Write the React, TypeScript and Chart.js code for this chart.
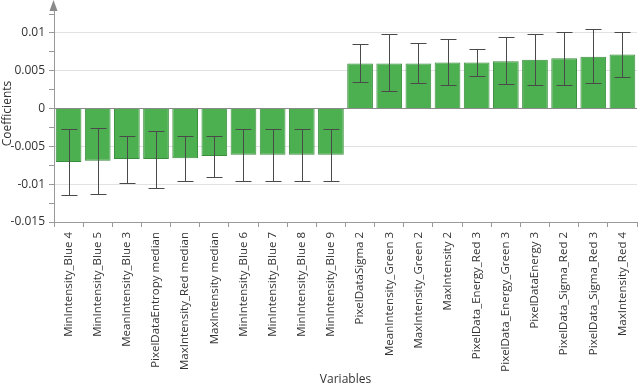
import React, { useEffect, useRef } from "react";
import { Chart, registerables } from "chart.js";

Chart.register(...registerables);

// Variables ordered by coefficient
const variables = [
  "MinIntensity_Blue 4",
  "MinIntensity_Blue 5",
  "MeanIntensity_Blue 3",
  "PixelDataEntropy median",
  "MaxIntensity_Red median",
  "MaxIntensity median",
  "MinIntensity_Blue 6",
  "MinIntensity_Blue 7",
  "MinIntensity_Blue 8",
  "MinIntensity_Blue 9",
  "PixelDataSigma 2",
  "MeanIntensity_Green 3",
  "MaxIntensity_Green 2",
  "MaxIntensity 2",
  "PixelData_Energy_Red 3",
  "PixelData_Energy_Green 3",
  "PixelDataEnergy 3",
  "PixelData_Sigma_Red 2",
  "PixelData_Sigma_Red 3",
  "MaxIntensity_Red 4",
];

const coefficients = [
  -0.00707, -0.00689, -0.00667, -0.00667, -0.00658, -0.00627, -0.00609, -0.00609, -0.00609, -0.00609,
  0.00597, 0.00597, 0.00597, 0.0061, 0.0061, 0.00627, 0.00645, 0.00667, 0.00684, 0.00715,
];

// Confidence interval bounds
const ciLow = [
  -0.01145, -0.01132, -0.00987, -0.01053, -0.00952, -0.00904, -0.00952, -0.00952, -0.00952, -0.00952,
  0.00351, 0.00228, 0.00338, 0.00307, 0.00434, 0.00325, 0.00311, 0.00316, 0.00333, 0.00421,
];
const ciHigh = [
  -0.00276, -0.00259, -0.00364, -0.00294, -0.00364, -0.0036, -0.00268, -0.00268, -0.00268, -0.00268,
  0.0086, 0.00982, 0.00873, 0.00917, 0.00794, 0.00943, 0.00987, 0.01018, 0.01048, 0.01013,
];

const yTicks = [-0.015, -0.0125, -0.01, -0.0075, -0.005, -0.0025, 0, 0.0025, 0.005, 0.0075, 0.01, 0.0125];
const yMin = -0.015;
const yMax = 0.0137;

const FONT = "'Open Sans', 'Noto Sans', sans-serif";

const isMajor = (v: number) => Math.abs(Math.round(v / 0.005) * 0.005 - v) < 1e-9;

const errorBars = {
  id: "errorBars",
  afterDatasetsDraw(chart: any) {
    const meta = chart.getDatasetMeta(0);
    const y = chart.scales.y;
    const ctx = chart.ctx;
    ctx.save();
    ctx.strokeStyle = "#4a4a4a";
    ctx.lineWidth = 1;
    meta.data.forEach((bar: any, i: number) => {
      const x = Math.round(bar.x) + 0.5;
      const y1 = Math.round(y.getPixelForValue(ciLow[i])) + 0.5;
      const y2 = Math.round(y.getPixelForValue(ciHigh[i])) + 0.5;
      const half = 8;
      ctx.beginPath();
      ctx.moveTo(x, y1);
      ctx.lineTo(x, y2);
      ctx.moveTo(x - half, y1);
      ctx.lineTo(x + half, y1);
      ctx.moveTo(x - half, y2);
      ctx.lineTo(x + half, y2);
      ctx.stroke();
    });
    ctx.restore();
  },
};

const axisArrow = {
  id: "axisArrow",
  afterDraw(chart: any) {
    const { ctx, chartArea } = chart;
    const x = Math.round(chartArea.left) - 0.5;
    ctx.save();
    ctx.strokeStyle = "#999";
    ctx.lineWidth = 1;
    ctx.beginPath();
    ctx.moveTo(x, chartArea.top);
    ctx.lineTo(x, 8);
    ctx.stroke();
    ctx.fillStyle = "#8a8a8a";
    ctx.beginPath();
    ctx.moveTo(x, 0);
    ctx.lineTo(x - 4, 11);
    ctx.lineTo(x + 4, 11);
    ctx.closePath();
    ctx.fill();
    ctx.restore();
  },
};

export default function App() {
  const canvasRef = useRef<HTMLCanvasElement>(null);

  useEffect(() => {
    document.body.style.margin = "0";
    const canvas = canvasRef.current;
    if (!canvas) return;
    const chart = new Chart(canvas, {
      type: "bar",
      data: {
        labels: variables,
        datasets: [
          {
            data: coefficients,
            backgroundColor: "#4caf50",
            borderColor: "#3b8d3e",
            borderWidth: 1,
            categoryPercentage: 0.9,
            barPercentage: 0.98,
          },
        ],
      },
      options: {
        responsive: false,
        animation: false,
        layout: { padding: { top: 5, right: 7, left: 0, bottom: 0 } },
        plugins: { legend: { display: false }, tooltip: { enabled: false } },
        scales: {
          x: {
            afterFit: (scale: any) => {
              scale.height = 168;
              scale.paddingLeft = 0;
              scale.paddingRight = 0;
            },
            grid: { display: true, drawOnChartArea: false, tickLength: 5, color: "#999", tickColor: "#999" },
            border: { color: "#999" },
            ticks: {
              minRotation: 90,
              maxRotation: 90,
              autoSkip: false,
              padding: 5,
              color: "#333",
              font: { family: FONT, size: 11.5 },
            },
            title: {
              display: true,
              text: "Variables",
              color: "#333",
              font: { family: FONT, size: 12 },
              padding: { top: 0, bottom: 3 },
            },
          },
          y: {
            min: yMin,
            max: yMax,
            afterFit: (scale: any) => {
              scale.width = 54;
              scale.paddingTop = 0;
              scale.paddingBottom = 0;
            },
            afterBuildTicks: (scale: any) => {
              scale.ticks = yTicks.map((v) => ({ value: v }));
            },
            grid: {
              tickLength: 5,
              color: (c: any) => {
                const v = c.tick ? c.tick.value : 1;
                if (Math.abs(v) < 1e-9) return "#8a8a8a";
                return isMajor(v) ? "#e2e2e2" : "rgba(0,0,0,0)";
              },
              tickColor: "#999",
            },
            border: { color: "#999" },
            ticks: {
              padding: 4,
              color: "#333",
              font: { family: FONT, size: 12 },
              callback: (v: any) => (isMajor(Number(v)) ? String(Number(Number(v).toFixed(4))) : ""),
            },
            title: {
              display: true,
              text: "Coefficients",
              color: "#333",
              font: { family: FONT, size: 12 },
              padding: { top: 0, bottom: 0 },
            },
          },
        },
      },
      plugins: [errorBars, axisArrow],
    });
    return () => chart.destroy();
  }, []);

  return <canvas ref={canvasRef} width={644} height={390} style={{ display: "block" }} />;
}
